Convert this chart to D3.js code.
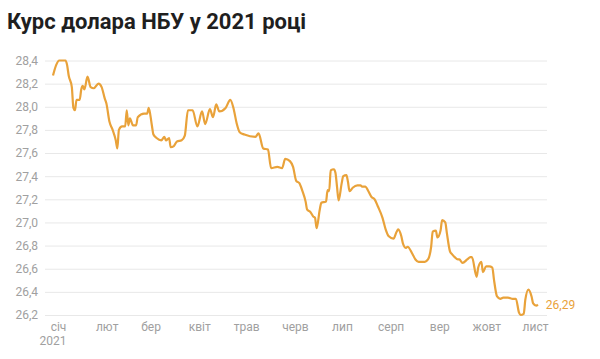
<!DOCTYPE html>
<html>
<head>
<meta charset="utf-8">
<script src="https://cdn.jsdelivr.net/npm/d3@7"></script>
<style>
  body { margin: 0; background: #fff; font-family: Roboto, "Noto Sans", sans-serif; }
  svg { display: block; }
</style>
</head>
<body>
<svg id="chart" width="600" height="359"></svg>
<script>
// NBU USD rate, 2021
var dates = [
  "01-01","01-03","01-05","01-09","01-10","01-11","01-13","01-14","01-15","01-16",
  "01-18","01-19","01-20","01-21","01-23","01-25","01-27","01-30","02-01","02-03",
  "02-04","02-06","02-08","02-10","02-11","02-12","02-14","02-16","02-17","02-18",
  "02-19","02-21","02-23","02-24","02-28","03-02","03-03","03-05","03-06","03-08",
  "03-11","03-13","03-14","03-16","03-17","03-19","03-21","03-24","03-26","03-28",
  "03-31","04-03","04-06","04-08","04-11","04-13","04-15","04-17","04-21","04-24",
  "04-26","04-28","04-30","05-03","05-10","05-12","05-15","05-18","05-20","05-24",
  "05-27","05-29","06-01","06-03","06-05","06-07","06-09","06-11","06-12","06-14",
  "06-16","06-17","06-18","06-20","06-21","06-24","06-25","06-26","06-27","06-29",
  "06-30","07-01","07-02","07-04","07-05","07-07","07-08","07-09","07-11","07-14",
  "07-16","07-17","07-19","07-21","07-23","07-25","07-27","07-30","08-01","08-03",
  "08-06","08-08","08-09","08-11","08-12","08-14","08-15","08-18","08-20","08-22",
  "08-26","08-28","08-30","08-31","09-02","09-03","09-05","09-06","09-08","09-09",
  "09-11","09-12","09-14","09-16","09-17","09-19","09-22","09-24","09-25","09-28",
  "09-29","10-01","10-02","10-04","10-06","10-08","10-09","10-11","10-13","10-15",
  "10-18","10-21","10-23","10-25","10-26","10-28","10-29","10-31","11-02","11-03",
  "11-05","11-06"
];
var rates = [
  28.27,28.36,28.40,28.40,28.36,28.27,28.17,27.99,27.97,28.06,
  28.06,28.15,28.18,28.15,28.26,28.17,28.16,28.20,28.17,28.07,
  28.03,27.87,27.80,27.71,27.64,27.80,27.83,27.83,27.97,27.84,
  27.90,27.84,27.84,27.91,27.94,27.94,27.99,27.84,27.76,27.73,
  27.71,27.74,27.71,27.73,27.65,27.66,27.70,27.71,27.75,27.97,
  27.97,27.83,27.96,27.85,27.98,27.91,28.02,27.96,27.99,28.06,
  27.99,27.86,27.78,27.76,27.74,27.77,27.64,27.63,27.47,27.48,
  27.47,27.55,27.53,27.48,27.36,27.34,27.27,27.18,27.11,27.09,
  27.05,27.04,26.95,27.11,27.17,27.18,27.28,27.27,27.45,27.46,
  27.43,27.31,27.19,27.34,27.40,27.41,27.35,27.27,27.30,27.32,
  27.32,27.31,27.31,27.27,27.22,27.20,27.14,27.04,26.94,26.88,
  26.86,26.92,26.94,26.88,26.82,26.78,26.79,26.73,26.68,26.66,
  26.66,26.68,26.79,26.92,26.93,26.87,26.93,27.02,27.00,26.91,
  26.75,26.73,26.70,26.68,26.68,26.65,26.68,26.70,26.70,26.53,
  26.61,26.66,26.57,26.62,26.62,26.61,26.51,26.36,26.34,26.35,
  26.35,26.34,26.34,26.22,26.20,26.21,26.33,26.42,26.36,26.30,
  26.28,26.29
];
var monthLabels = ["січ","лют","бер","квіт","трав","черв","лип","серп","вер","жовт","лист"];
var yTicks = [26.2,26.4,26.6,26.8,27.0,27.2,27.4,27.6,27.8,28.0,28.2,28.4];
var title = "Курс долара НБУ у 2021 році";

var parse = d3.timeParse("%Y-%m-%d");
var data = dates.map(function (d, i) {
  return { date: parse("2021-" + d), value: rates[i] };
});

var svg = d3.select("#chart");
var lineColor = "#e9a23a";

svg.append("text")
  .attr("x", 7)
  .attr("y", 29)
  .attr("font-size", 22)
  .attr("font-weight", "bold")
  .attr("fill", "#1f1f1f")
  .text(title);

// scales
var x = d3.scaleTime()
  .domain([new Date(2021, 0, 1), new Date(2021, 10, 1)])
  .range([53, 530]);

var y = d3.scaleLinear()
  .domain([26.2, 28.4])
  .range([315, 60.5]);

var fmt = function (v) { return d3.format(".1f")(v).replace(".", ","); };

// y grid + labels
var yAxis = svg.append("g")
  .attr("transform", "translate(45,0)")
  .call(d3.axisLeft(y).tickValues(yTicks).tickSize(-502).tickPadding(7).tickFormat(fmt));
yAxis.select(".domain").remove();
yAxis.selectAll(".tick line").attr("stroke", "#e8e8e8");
yAxis.selectAll(".tick text")
  .attr("fill", "#a0a0a0")
  .attr("font-size", 12)
  .attr("font-family", "Roboto, sans-serif");

// x axis labels
var months = d3.timeMonth.range(new Date(2021, 0, 1), new Date(2021, 10, 2));
var xAxis = svg.append("g")
  .attr("transform", "translate(0,320)")
  .call(d3.axisBottom(x).tickValues(months).tickSize(0).tickPadding(0)
    .tickFormat(function (d, i) { return monthLabels[i]; }));
xAxis.select(".domain").remove();
xAxis.selectAll(".tick text")
  .attr("fill", "#a0a0a0")
  .attr("font-size", 12)
  .attr("font-family", "Roboto, sans-serif")
  .attr("dx", 5)
  .attr("dy", "0.95em");

svg.append("text")
  .attr("x", x(months[0]))
  .attr("y", 345)
  .attr("text-anchor", "middle")
  .attr("fill", "#a0a0a0")
  .attr("font-size", 12)
  .text("2021");

// line
var line = d3.line()
  .x(function (d) { return x(d.date); })
  .y(function (d) { return y(d.value); })
  .curve(d3.curveMonotoneX);

svg.append("path")
  .datum(data)
  .attr("fill", "none")
  .attr("stroke", lineColor)
  .attr("stroke-width", 2.2)
  .attr("stroke-linejoin", "round")
  .attr("d", line);

// last value label
var last = data[data.length - 1];
svg.append("text")
  .attr("x", x(last.date) + 8)
  .attr("y", y(last.value))
  .attr("dy", "0.35em")
  .attr("fill", lineColor)
  .attr("font-size", 12)
  .text(fmt2(last.value));

function fmt2(v) { return d3.format(".2f")(v).replace(".", ","); }
</script>
</body>
</html>
